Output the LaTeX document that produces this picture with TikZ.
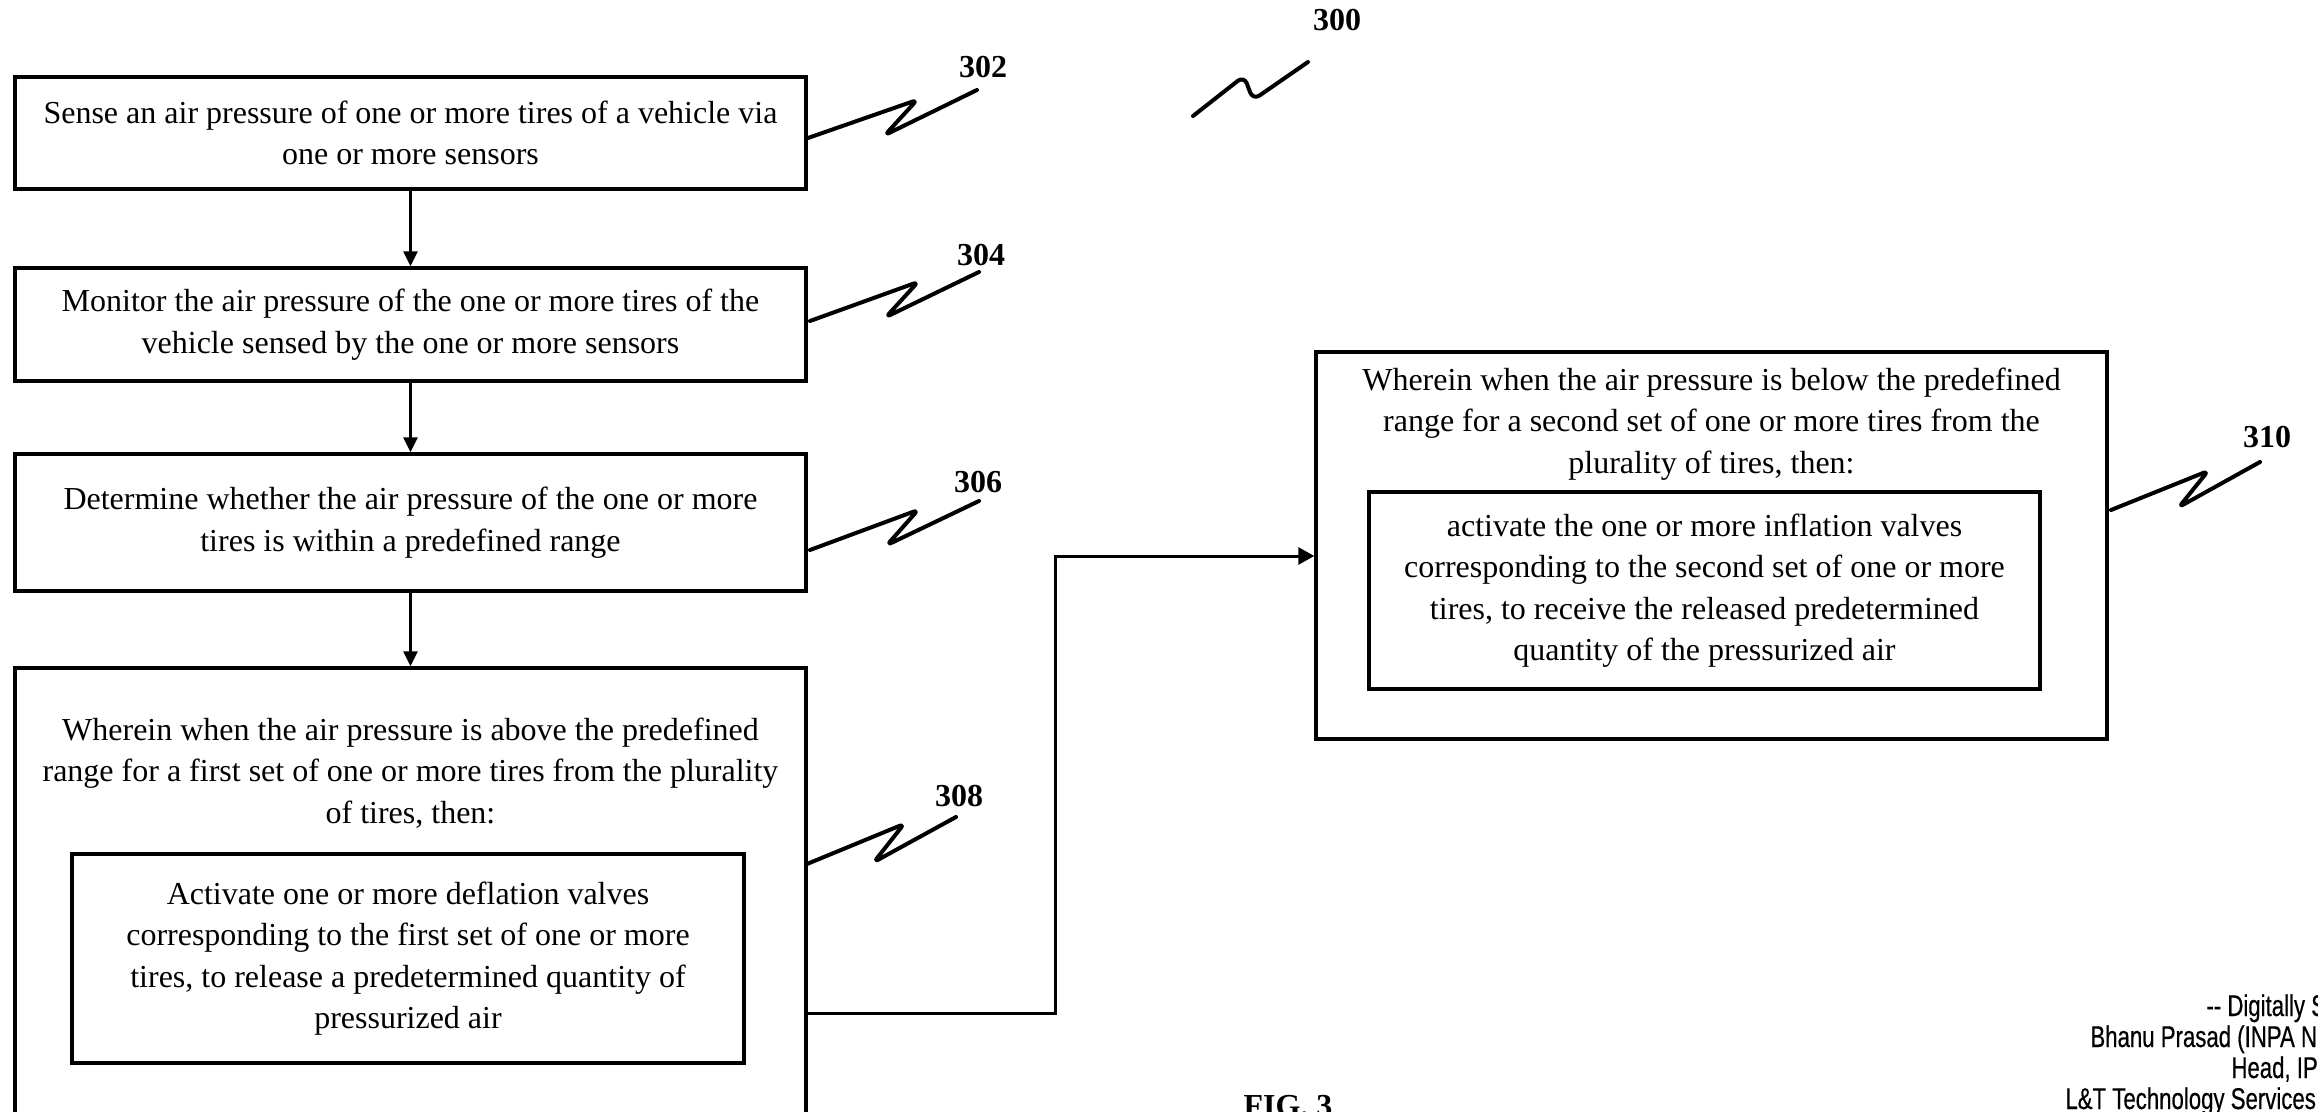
\documentclass[tikz,border=0pt]{standalone}
\usepackage{fontspec}
\setmainfont{Liberation Serif}
\newfontfamily\sigfont[FakeStretch=0.74,FakeBold=0.5]{Liberation Sans}
\usetikzlibrary{arrows.meta}
\begin{document}
\begin{tikzpicture}[x=0.5pt,y=-0.5pt,
  box/.style={draw, line width=1.7pt, rectangle, inner sep=0pt},
  txt/.style={align=center, inner sep=0pt, font=\fontsize{16}{20.75}\selectfont},
  lbl/.style={inner sep=0pt, font=\fontsize{16}{19}\selectfont\bfseries},
  squig/.style={line width=2pt, rounded corners=2.5pt, line cap=round, line join=round},
  arr/.style={line width=1.3pt, -{Triangle[length=7.5pt,width=7pt]}},
  conn/.style={line width=1.5pt, -{Triangle[length=8pt,width=8.5pt]}},
  sig/.style={inner sep=0pt, anchor=base west, font=\sigfont\fontsize{15}{15.5}\selectfont},
]
\useasboundingbox (0,0) rectangle (2318,1112);
\clip (0,0) rectangle (2318,1112);

% left column boxes
\node[box, txt, minimum width=395.5pt, minimum height=56pt] (b302) at (410.5,133)
  {Sense an air pressure of one or more tires of a vehicle via\\one or more sensors};
\node[box, txt, minimum width=395.5pt, minimum height=56.5pt] (b304) at (410.5,324.5)
  {Monitor the air pressure of the one or more tires of the\\vehicle sensed by the one or more sensors};
\node[box, txt, minimum width=395.5pt, minimum height=68.5pt] (b306) at (410.5,522.5)
  {Determine whether the air pressure of the one or more\\tires is within a predefined range};
\node[box, minimum width=395.5pt, minimum height=345pt] (b308) at (410.5,1013) {};
\node[txt] (t308) at (410.5,773)
  {Wherein when the air pressure is above the predefined\\range for a first set of one or more tires from the plurality\\of tires, then:};
\node[box, txt, minimum width=336pt, minimum height=104.5pt] (b308i) at (408,958.5)
  {Activate one or more deflation valves\\corresponding to the first set of one or more\\tires, to release a predetermined quantity of\\pressurized air};

% right boxes
\node[box, minimum width=395.5pt, minimum height=193.5pt] (b310) at (1711.5,545.5) {};
\node[txt] (t310) at (1711.5,424)
  {Wherein when the air pressure is below the predefined\\range for a second set of one or more tires from the\\plurality of tires, then:};
\node[box, txt, minimum width=335.5pt, minimum height=98.5pt] (b310i) at (1704.5,590.5)
  {activate the one or more inflation valves\\corresponding to the second set of one or more\\tires, to receive the released predetermined\\quantity of the pressurized air};

% arrows
\draw[arr] (b302.south) -- (b304.north);
\draw[arr] (b304.south) -- (b306.north);
\draw[arr] (b306.south) -- (b308.north);
\coordinate (j1) at (1055,556);
\draw[conn] (b308.east) -| (j1) -- (j1 -| b310.west);

% reference numerals
\node[lbl] (l300) at (1337,20) {300};
\node[lbl] (l302) at (983,67) {302};
\node[lbl] (l304) at (981,255) {304};
\node[lbl] (l306) at (978,482) {306};
\node[lbl] (l308) at (959,796) {308};
\node[lbl] (l310) at (2267,437) {310};

% squiggle leaders
\draw[squig] (808,138) -- (917,100) -- (885,135) -- (977,90);
\draw[squig] (810,321) -- (918,282) -- (886,317) -- (979,272);
\draw[squig] (810,550) -- (918,510) -- (887,545) -- (979,501);
\draw[squig] (807,864) -- (904,824) -- (874,862) -- (956,817);
\draw[squig] (2111,510) -- (2208,471) -- (2179,507) -- (2260,462);
\draw[squig, rounded corners=4pt] (1193,116) -- (1244,76) -- (1253,100) -- (1308,62);

% figure caption
\node[lbl, anchor=base] (fig) at (1288,1116) {FIG. 3};

% signature block (cut at the page edge)
\node[sig] (sg1) at (2206,1016) {-{}- Digitally S};
\node[sig] (sg2) at (2090,1047) {Bhanu Prasad (INPA N};
\node[sig] (sg3) at (2231,1078) {Head, IP};
\node[sig] (sg4) at (2065,1109) {L\&T Technology Services};
\end{tikzpicture}
\end{document}
